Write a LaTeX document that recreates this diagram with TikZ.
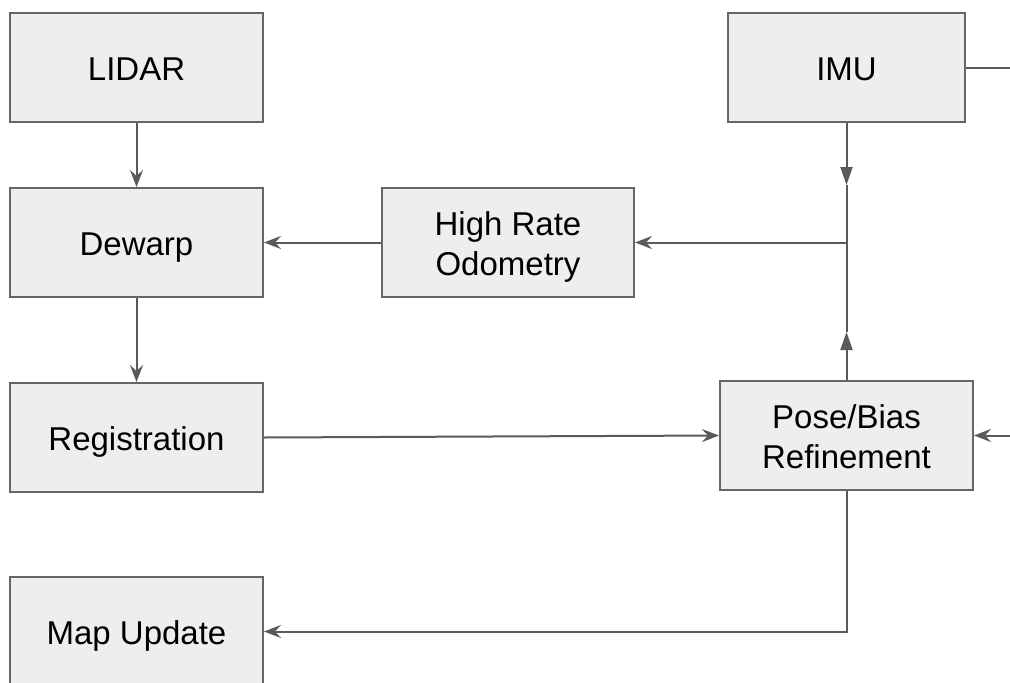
\documentclass[tikz,border=0pt]{standalone}
\usepackage{fontspec}
\setmainfont{Liberation Sans}
\usetikzlibrary{arrows.meta}
\definecolor{boxfill}{HTML}{EEEEEE}
\definecolor{boxline}{HTML}{666666}
\definecolor{wire}{HTML}{5A5A5A}
\begin{document}
\begin{tikzpicture}[x=1pt,y=-1pt,
  block/.style={draw=boxline, line width=2pt, fill=boxfill, minimum width=253pt,
    minimum height=109pt, inner sep=0pt, align=center,
    text height=26pt, text depth=0pt,
    font=\fontsize{33}{40}\selectfont},
  twoline/.style={text height=66pt, text depth=0pt},
  conn/.style={draw=wire, line width=2pt},
  thin/.style={conn, -{Stealth[length=17pt,width=13pt,inset=6pt]}},
  bold/.style={conn, -{Triangle[length=18pt,width=12pt]}}]
\useasboundingbox (0,0) rectangle (1010,683);
\fill[white] (0,0) rectangle (1010,683);

% blocks
\node[block] (lidar) at (136.5,67.5) {LIDAR};
\node[block, minimum width=237pt] (imu) at (846.5,67.5) {IMU};
\node[block] (dewarp) at (136.5,242.5) {Dewarp};
\node[block, twoline, minimum width=252pt] (hro) at (508,242.5) {High Rate\\Odometry};
\node[block] (reg) at (136.5,437.5) {Registration};
\node[block, twoline] (pose) at (846.5,435.5) {Pose/Bias\\Refinement};
\node[block] (map) at (136.5,631.5) {Map Update};

% junction points
\coordinate (join) at (846.5,242.5);
\coordinate (imutip) at (846.5,185);
\coordinate (posetip) at (846.5,332);
\coordinate (imuout) at (1010,67.5);
\coordinate (posein) at (1010,435.5);
\coordinate (corner) at (846.5,631.5);

% connectors
\draw[thin] (lidar.south) -- (dewarp.north);
\draw[thin] (dewarp.south) -- (reg.north);
\draw[thin] (hro.west) -- (dewarp.east);
\draw[thin] (join) -- (hro.east);
\draw[bold] (imu.south) -- (imutip);
\draw[conn] (imutip) -- (join);
\draw[bold] (pose.north) -- (posetip);
\draw[conn] (posetip) -- (join);
\draw[thin] (reg.east) -- (pose.west);
\draw[thin] (posein) -- (pose.east);
\draw[conn] (imu.east) -- (imuout);
\draw[thin] (pose.south) -- (corner) -- (map.east);
\end{tikzpicture}
\end{document}
